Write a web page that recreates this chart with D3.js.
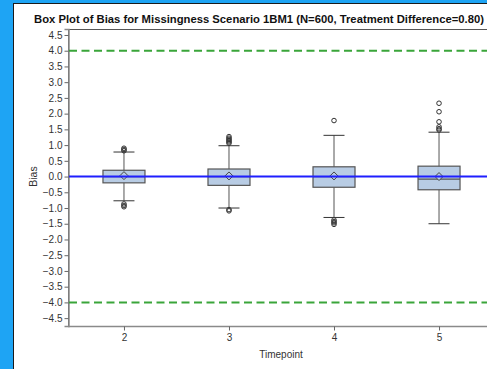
<!DOCTYPE html>
<html>
<head>
<meta charset="utf-8">
<style>
  body { margin: 0; background: #fff; }
  svg { display: block; font-family: "Liberation Sans", Arial, sans-serif; }
  .tick text { fill: #333; font-size: 10px; }
</style>
</head>
<body>
<div id="chart"></div>
<script src="https://d3js.org/d3.v7.min.js"></script>
<script>
  // Summary stats, one entry per timepoint
  const timepoints = ['2', '3', '4', '5'];
  const q1 = [-0.2, -0.28, -0.34, -0.42];
  const median = [0.0, 0.0, 0.0, -0.08];
  const q3 = [0.2, 0.24, 0.31, 0.33];
  const whiskerLow = [-0.77, -1.0, -1.3, -1.5];
  const whiskerHigh = [0.78, 0.98, 1.31, 1.41];
  const means = [0.03, 0.02, 0.02, 0.0];
  const outliers = [
    [0.82, 0.86, 0.9, -0.87, -0.92, -0.96],
    [1.06, 1.1, 1.14, 1.18, 1.22, 1.27, -1.05, -1.09],
    [1.78, -1.38, -1.43, -1.47, -1.52],
    [2.33, 2.06, 1.74, 1.58, 1.52, 1.48]
  ];
  const yTicks = [4.5, 4, 3.5, 3, 2.5, 2, 1.5, 1, 0.5, 0, -0.5, -1, -1.5, -2, -2.5, -3, -3.5, -4, -4.5];
  const refLines = [4, -4];

  const width = 487;
  const height = 369;
  const plot = { left: 68, top: 29, right: 495, bottom: 326 };

  const svg = d3.select('#chart').append('svg')
    .attr('width', width)
    .attr('height', height);

  // blue page strip on the left and top
  svg.append('rect').attr('x', 0).attr('y', 0).attr('width', width).attr('height', 3).attr('fill', '#1ea4f4');
  svg.append('rect').attr('x', 0).attr('y', 0).attr('width', 13).attr('height', height).attr('fill', '#1ea4f4');
  svg.append('line').attr('x1', 13.5).attr('x2', 13.5).attr('y1', 3).attr('y2', height).attr('stroke', '#1b1b1b');
  svg.append('line').attr('x1', 13).attr('x2', width).attr('y1', 3.5).attr('y2', 3.5).attr('stroke', '#1b1b1b');

  const x = d3.scalePoint()
    .domain(timepoints)
    .range([plot.left, plot.right])
    .padding(0.533);

  const y = d3.scaleLinear()
    .domain([-4.75, 4.69])
    .range([plot.bottom, plot.top]);

  // frame
  svg.append('rect')
    .attr('x', plot.left + 0.5).attr('y', plot.top + 0.5)
    .attr('width', plot.right - plot.left).attr('height', plot.bottom - plot.top)
    .attr('fill', 'none').attr('stroke', '#555');

  // axes
  const yAxis = svg.append('g')
    .attr('transform', `translate(${plot.left + 0.5},0)`)
    .call(d3.axisLeft(y).tickValues(yTicks).tickSize(4).tickPadding(2).tickFormat(d3.format('.1f')));
  const xAxis = svg.append('g')
    .attr('transform', `translate(0,${plot.bottom + 0.5})`)
    .call(d3.axisBottom(x).tickSize(4).tickPadding(3));
  [yAxis, xAxis].forEach(a => {
    a.select('.domain').attr('stroke', '#8a8a8a').attr('stroke-width', 1.5);
    a.selectAll('.tick line').attr('stroke', '#666');
  });
  xAxis.select('.domain').attr('d', `M${plot.left},0H${width}`);

  // reference lines
  svg.selectAll('.ref')
    .data(refLines)
    .enter().append('line')
    .attr('x1', plot.left + 1).attr('x2', width)
    .attr('y1', d => y(d)).attr('y2', d => y(d))
    .attr('stroke', '#3aa53a').attr('stroke-width', 2)
    .attr('stroke-dasharray', '8,4.5');

  const boxW = 42;
  const capW = 21;
  const boxes = svg.selectAll('.box')
    .data(timepoints)
    .enter().append('g')
    .attr('transform', d => `translate(${x(d)},0)`);

  // whiskers
  boxes.append('line')
    .attr('y1', (d, i) => y(whiskerLow[i])).attr('y2', (d, i) => y(whiskerHigh[i]))
    .attr('stroke', '#555');
  boxes.append('line')
    .attr('x1', -capW / 2).attr('x2', capW / 2)
    .attr('y1', (d, i) => y(whiskerLow[i])).attr('y2', (d, i) => y(whiskerLow[i]))
    .attr('stroke', '#333');
  boxes.append('line')
    .attr('x1', -capW / 2).attr('x2', capW / 2)
    .attr('y1', (d, i) => y(whiskerHigh[i])).attr('y2', (d, i) => y(whiskerHigh[i]))
    .attr('stroke', '#333');

  // box
  boxes.append('rect')
    .attr('x', -boxW / 2).attr('width', boxW)
    .attr('y', (d, i) => y(q3[i]))
    .attr('height', (d, i) => y(q1[i]) - y(q3[i]))
    .attr('fill', '#b8cce4').attr('stroke', '#555').attr('stroke-width', 1.2);
  boxes.append('line')
    .attr('x1', -boxW / 2).attr('x2', boxW / 2)
    .attr('y1', (d, i) => y(median[i])).attr('y2', (d, i) => y(median[i]))
    .attr('stroke', '#555').attr('stroke-width', 1.2);

  // outliers
  boxes.selectAll('circle')
    .data((d, i) => outliers[i])
    .enter().append('circle')
    .attr('cy', v => y(v)).attr('r', 2.3)
    .attr('fill', 'none').attr('stroke', '#333').attr('stroke-width', 1);

  // zero line
  svg.append('line')
    .attr('x1', plot.left + 1).attr('x2', width)
    .attr('y1', y(0)).attr('y2', y(0))
    .attr('stroke', '#1f1fff').attr('stroke-width', 2);

  // mean diamonds
  boxes.append('path')
    .attr('d', (d, i) => {
      const c = y(means[i]);
      return `M0,${c - 4}L4,${c}L0,${c + 4}L-4,${c}Z`;
    })
    .attr('fill', '#b8cce4').attr('stroke', '#444').attr('stroke-width', 1);

  // titles
  svg.append('text')
    .attr('x', 259).attr('y', 23)
    .attr('text-anchor', 'middle')
    .attr('font-size', 10.7).attr('font-weight', 'bold').attr('fill', '#111')
    .attr('textLength', 450).attr('lengthAdjust', 'spacingAndGlyphs')
    .text('Box Plot of Bias for Missingness Scenario 1BM1 (N=600, Treatment Difference=0.80)');
  svg.append('text')
    .attr('transform', `translate(37,${y(0)}) rotate(-90)`)
    .attr('text-anchor', 'middle')
    .attr('font-size', 10.5).attr('fill', '#333')
    .text('Bias');
  svg.append('text')
    .attr('x', 281).attr('y', 358)
    .attr('text-anchor', 'middle')
    .attr('font-size', 10).attr('fill', '#333')
    .text('Timepoint');
</script>
</body>
</html>
